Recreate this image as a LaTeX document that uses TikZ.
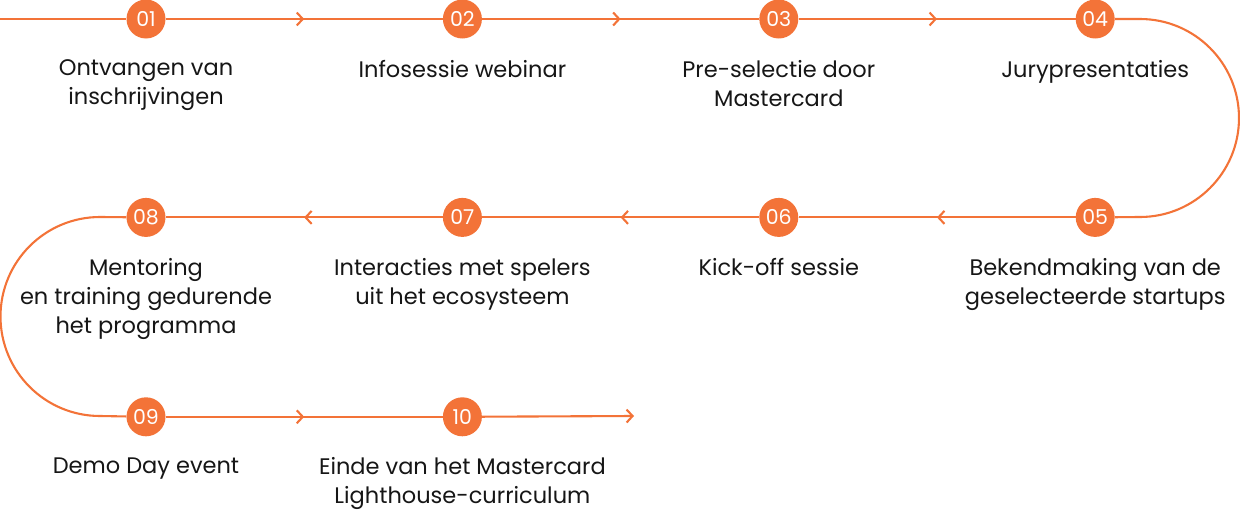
\documentclass[tikz,border=0pt]{standalone}
\usepackage{fontspec}
\setmainfont{Poppins}
\usetikzlibrary{arrows.meta, positioning, decorations.markings}
\definecolor{mcorange}{HTML}{F37338}
\definecolor{ink}{HTML}{161616}

\begin{document}
\begin{tikzpicture}[x=1pt, y=1pt,
      num/.style={circle, fill=mcorange, text=white, minimum size=39pt, inner sep=0pt,
                  font=\fontsize{20.5}{20.5}\selectfont},
      lbl/.style={align=center, inner sep=0pt, text=ink, font=\fontsize{22.5}{29}\selectfont},
      link/.style={draw=mcorange, line width=2.1pt},
      tip/.style={-{Straight Barb[length=6pt, width=13pt]}},
      midarr/.style={link, postaction={decorate}, decoration={markings,
                  mark=at position 0.5 with {\arrow{Straight Barb[length=6pt, width=13pt]}}}}]
    \useasboundingbox (0,0) rectangle (1240,-522);
    % row 1
    \node[num] (c01) at (146,-19) {01};
    \node[num, right=277pt of c01] (c02) {02};
    \node[num, right=277pt of c02] (c03) {03};
    \node[num, right=277pt of c03] (c04) {04};
    % row 2
    \node[num, below=159pt of c04] (c05) {05};
    \node[num, left=277pt of c05]  (c06) {06};
    \node[num, left=277pt of c06]  (c07) {07};
    \node[num, left=277pt of c07]  (c08) {08};
    % row 3
    \node[num, below=160pt of c08] (c09) {09};
    \node[num, right=277pt of c09] (c10) {10};
    % labels
    \node[lbl, below=21pt of c01] (t01) {Ontvangen van\\inschrijvingen};
    \node[lbl, below=21pt of c02] (t02) {Infosessie webinar};
    \node[lbl, below=21pt of c03] (t03) {Pre-selectie door\\Mastercard};
    \node[lbl, below=21pt of c04] (t04) {Jurypresentaties};
    \node[lbl, below=21pt of c05] (t05) {Bekendmaking van de\\geselecteerde startups};
    \node[lbl, below=21pt of c06] (t06) {Kick-off sessie};
    \node[lbl, below=21pt of c07] (t07) {Interacties met spelers\\uit het ecosysteem};
    \node[lbl, below=21pt of c08] (t08) {Mentoring\\en training gedurende\\het programma};
    \node[lbl, below=21pt of c09] (t09) {Demo Day event};
    \node[lbl, below=21pt of c10] (t10) {Einde van het Mastercard\\Lighthouse-curriculum};
    % path
    \coordinate (start) at (0,-19);
    \coordinate (r1) at (1140,-19);
    \coordinate (l1) at (100,-217);
    \coordinate (stop) at (634,-416);
    \draw[link] (start) -- (c01);
    \draw[midarr] (c01) -- (c02);\draw[midarr] (c02) -- (c03);\draw[midarr] (c03) -- (c04);
    \draw[link] (c04) -- (r1) arc[start angle=90, end angle=-90, radius=99pt] -- (c05);
    \draw[midarr] (c05) -- (c06);\draw[midarr] (c06) -- (c07);\draw[midarr] (c07) -- (c08);
    \draw[link] (c08) -- (l1) arc[start angle=90, end angle=270, radius=99.5pt] -- (c09);
    \draw[midarr] (c09) -- (c10);
    \draw[link, tip] (c10) -- (stop);
  \end{tikzpicture}
\end{document}
